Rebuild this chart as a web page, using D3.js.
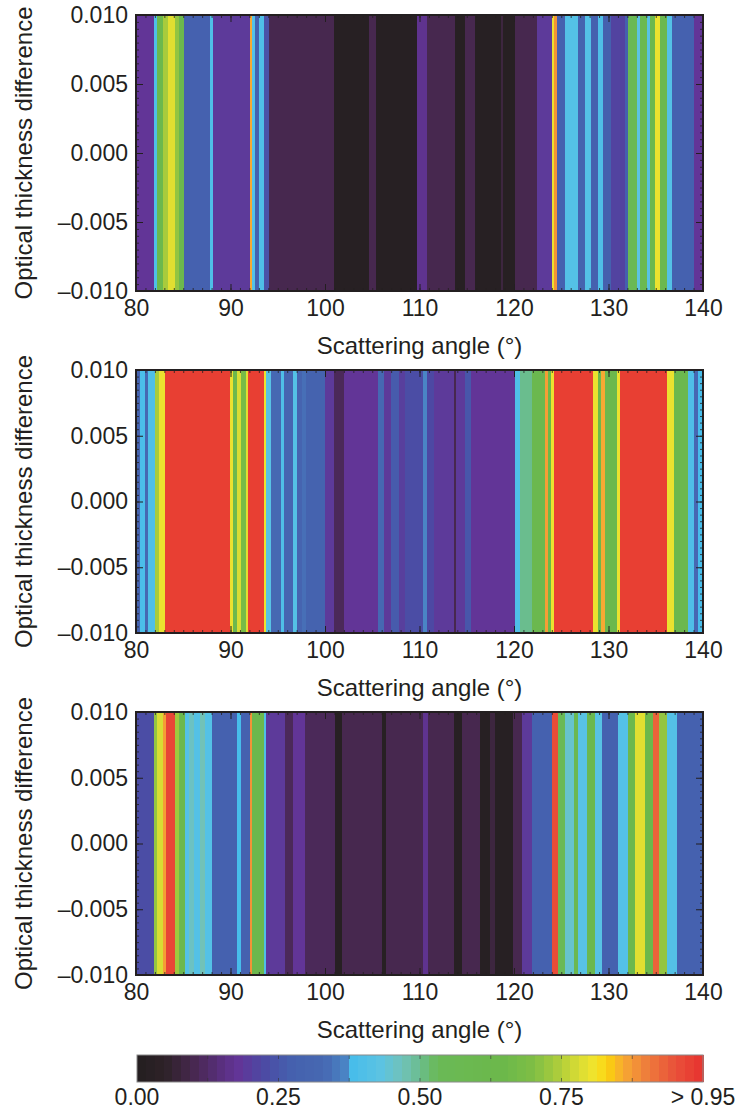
<!DOCTYPE html>
<html>
<head>
<meta charset="utf-8">
<script src="https://cdn.jsdelivr.net/npm/d3@7"></script>
<style>
  body { margin: 0; background: #fff; }
  text { font-family: "Liberation Sans", Arial, sans-serif; fill: #231f20; }
</style>
</head>
<body>
<script>
const width = 735;
const height = 1116;

// stripe start angles (deg) and fraction values, each stripe runs to the next start (last one to 140)
const anglesTop = [80, 81.9, 82.2, 82.9, 83.4, 84.1, 84.5, 85.1, 87.8, 88.1, 92.05, 92.25, 92.55, 93.0, 93.5, 94.1,
  100.9, 104.7, 105.4, 109.7, 110.8, 113.75, 114.8, 115.9, 118.6, 118.8, 120.1, 122.4, 124.0, 124.2, 124.5,
  125.4, 126.8, 127.5, 128.2, 128.9, 129.4, 130.3, 131.7, 132.1, 133.0, 133.3, 134.1, 134.4, 134.9, 135.4,
  136.2, 136.7, 139.0];
const valuesTop = [0.18, 0.40, 0.62, 0.74, 0.79, 0.72, 0.62, 0.28, 0.40, 0.19, 0.86, 0.41, 0.28, 0.40, 0.24, 0.10,
  0.02, 0.10, 0.02, 0.17, 0.10, 0.02, 0.10, 0.02, 0.08, 0.02, 0.10, 0.19, 0.80, 0.88, 0.28,
  0.41, 0.29, 0.41, 0.28, 0.40, 0.27, 0.21, 0.27, 0.55, 0.43, 0.58, 0.42, 0.60, 0.80, 0.60,
  0.41, 0.28, 0.18];

const anglesMid = [80, 80.4, 81.0, 81.3, 82.0, 82.4, 83.1, 89.9, 90.3, 90.7, 91.1, 91.6, 91.9, 93.5, 93.8, 94.3,
  95.3, 95.7, 96.6, 97.0, 97.6, 98.0, 100.0, 100.9, 102.0, 105.6, 106.2, 107.0, 107.8, 108.5, 110.4,
  110.8, 111.5, 113.6, 113.9, 114.8, 115.5, 120.1, 120.6, 121.9, 123.3, 123.6, 123.9, 124.2, 128.4,
  128.9, 129.2, 129.6, 130.9, 131.2, 136.2, 136.9, 138.4, 139.0, 139.5];
const valuesMid = [0.30, 0.39, 0.33, 0.40, 0.74, 0.80, 0.98, 0.80, 0.62, 0.78, 0.68, 0.79, 0.98, 0.80, 0.42, 0.33,
  0.40, 0.31, 0.41, 0.30, 0.34, 0.29, 0.19, 0.11, 0.18, 0.33, 0.19, 0.26, 0.20, 0.23, 0.37,
  0.22, 0.19, 0.10, 0.19, 0.25, 0.18, 0.40, 0.50, 0.60, 0.87, 0.65, 0.80, 0.98, 0.80,
  0.62, 0.86, 0.62, 0.80, 0.98, 0.80, 0.62, 0.40, 0.33, 0.38];

const anglesBot = [80, 81.9, 82.2, 82.9, 83.2, 84.1, 84.5, 85.2, 85.6, 86.1, 86.8, 87.3, 88.0, 90.7, 91.1, 92.05,
  92.25, 93.5, 93.8, 95.8, 96.6, 97.9, 101.1, 101.8, 106.0, 106.5, 110.4, 110.9, 113.6, 114.5, 116.4,
  117.5, 118.0, 119.9, 120.8, 121.9, 124.0, 124.7, 125.4, 126.3, 126.8, 127.7, 128.6, 129.3, 131.0,
  132.1, 132.8, 133.9, 134.7, 135.3, 136.2, 137.2];
const valuesBot = [0.23, 0.72, 0.78, 0.87, 0.97, 0.73, 0.62, 0.41, 0.46, 0.41, 0.47, 0.41, 0.28, 0.38, 0.28, 0.88,
  0.62, 0.40, 0.19, 0.11, 0.18, 0.11, 0.02, 0.10, 0.02, 0.10, 0.17, 0.10, 0.02, 0.10, 0.02,
  0.08, 0.02, 0.10, 0.19, 0.28, 0.96, 0.53, 0.45, 0.60, 0.42, 0.60, 0.42, 0.28, 0.41,
  0.62, 0.79, 0.64, 0.93, 0.72, 0.41, 0.28];

const xTicks = [80, 90, 100, 110, 120, 130, 140];
const yTicks = [-0.010, -0.005, 0.000, 0.005, 0.010];
const barTicks = [0, 0.25, 0.5, 0.75, 1];
const barLabels = ["0.00", "0.25", "0.50", "0.75", "> 0.95"];

// colormap
const cmapStops = [0, 0.05, 0.10, 0.15, 0.18, 0.22, 0.27, 0.33, 0.37, 0.38, 0.43, 0.47, 0.50, 0.53, 0.65,
  0.70, 0.74, 0.78, 0.81, 0.83, 0.86, 0.90, 0.95, 1];
const cmapColors = ["#231f20", "#2e2228", "#47284f", "#5a2f80", "#623597", "#4d48a3", "#4560ae", "#4668b2",
  "#4a85c5", "#47bdeb", "#5cc3e2", "#71c2b8", "#6abd8e", "#6ab956", "#6cb84a", "#7fbe45", "#a8cb3c",
  "#d8dc34", "#f4e52c", "#fbd10c", "#f7a933", "#ee7d3b", "#e9523a", "#e7322f"];

const color = d3.scaleLinear().domain(cmapStops).range(cmapColors).clamp(true);

const panels = [
  {top: 15, bottom: 291, angles: anglesTop, values: valuesTop},
  {top: 370, bottom: 633, angles: anglesMid, values: valuesMid},
  {top: 712, bottom: 975, angles: anglesBot, values: valuesBot}
];

const svg = d3.select("body").append("svg")
  .attr("width", width)
  .attr("height", height);

const x = d3.scaleLinear().domain([80, 140]).range([136, 703]);
const yFmt = d => (d < 0 ? "\u2013" : "") + Math.abs(d).toFixed(3);

panels.forEach(function(p) {
  const y = d3.scaleLinear().domain([-0.010, 0.010]).range([p.bottom, p.top]);
  const g = svg.append("g");

  const stripes = p.angles.map((a, i) => ({
    a0: a,
    a1: i < p.angles.length - 1 ? p.angles[i + 1] : 140,
    v: p.values[i]
  }));

  g.append("g")
    .selectAll("rect")
    .data(stripes)
    .enter()
    .append("rect")
    .attr("x", d => x(d.a0))
    .attr("width", d => x(d.a1) - x(d.a0))
    .attr("y", y(0.010))
    .attr("height", y(-0.010) - y(0.010))
    .attr("fill", d => color(d.v))
    .attr("shape-rendering", "crispEdges");

  // minor ticks all round
  const minor = [
    [d3.axisBottom(x).ticks(60), `translate(0,${p.bottom})`],
    [d3.axisTop(x).ticks(60), `translate(0,${p.top})`],
    [d3.axisLeft(y).ticks(40), `translate(136,0)`],
    [d3.axisRight(y).ticks(40), `translate(703,0)`]
  ];
  minor.forEach(function(m) {
    g.append("g")
      .attr("transform", m[1])
      .call(m[0].tickSize(-3).tickFormat(""))
      .call(a => a.select(".domain").remove())
      .selectAll("line").attr("stroke", "#231f20").attr("stroke-width", 0.8);
  });

  // major ticks + labels
  g.append("g")
    .attr("transform", `translate(0,${p.bottom})`)
    .call(d3.axisBottom(x).tickValues(xTicks).tickSize(-7).tickPadding(9).tickFormat(d3.format("d")))
    .call(a => a.select(".domain").remove())
    .call(a => a.selectAll("line").attr("stroke", "#231f20"))
    .selectAll("text").attr("font-size", 23).attr("fill", "#231f20");

  g.append("g")
    .attr("transform", `translate(0,${p.top})`)
    .call(d3.axisTop(x).tickValues(xTicks).tickSize(-7).tickFormat(""))
    .call(a => a.select(".domain").remove())
    .selectAll("line").attr("stroke", "#231f20");

  g.append("g")
    .attr("transform", "translate(136,0)")
    .call(d3.axisLeft(y).tickValues(yTicks).tickSize(-7).tickPadding(8).tickFormat(yFmt))
    .call(a => a.select(".domain").remove())
    .call(a => a.selectAll("line").attr("stroke", "#231f20"))
    .selectAll("text").attr("font-size", 23).attr("fill", "#231f20");

  g.append("g")
    .attr("transform", "translate(703,0)")
    .call(d3.axisRight(y).tickValues(yTicks).tickSize(-7).tickFormat(""))
    .call(a => a.select(".domain").remove())
    .selectAll("line").attr("stroke", "#231f20");

  // frame
  g.append("rect")
    .attr("x", 136)
    .attr("y", p.top)
    .attr("width", 703 - 136)
    .attr("height", p.bottom - p.top)
    .attr("fill", "none")
    .attr("stroke", "#231f20")
    .attr("stroke-width", 2);

  // titles
  g.append("text")
    .attr("x", (136 + 703) / 2)
    .attr("y", p.bottom + 63)
    .attr("text-anchor", "middle")
    .attr("font-size", 24)
    .text("Scattering angle (\u00b0)");

  g.append("text")
    .attr("transform", `translate(32,${(p.top + p.bottom) / 2}) rotate(-90)`)
    .attr("text-anchor", "middle")
    .attr("font-size", 24)
    .text("Optical thickness difference");
});

// colour bar
const cx = d3.scaleLinear().domain([0, 1]).range([137, 703]);
const nBands = 64;
const bands = d3.range(nBands).map(i => i / nBands);

const bar = svg.append("g");
bar.selectAll("rect")
  .data(bands)
  .enter()
  .append("rect")
  .attr("x", d => cx(d))
  .attr("width", cx(1 / nBands) - cx(0) + 0.5)
  .attr("y", 1055)
  .attr("height", 27)
  .attr("fill", d => color(d + 0.5 / nBands))
  .attr("shape-rendering", "crispEdges");

bar.append("g")
  .selectAll("g")
  .data([0.125, 0.25, 0.375, 0.5, 0.625, 0.75, 0.875])
  .enter()
  .append("g")
  .each(function(d) {
    d3.select(this).append("line")
      .attr("x1", cx(d)).attr("x2", cx(d)).attr("y1", 1055).attr("y2", 1059);
    d3.select(this).append("line")
      .attr("x1", cx(d)).attr("x2", cx(d)).attr("y1", 1078).attr("y2", 1082);
  })
  .selectAll("line")
  .attr("stroke", "#333")
  .attr("stroke-opacity", 0.6);

bar.append("rect")
  .attr("x", 137)
  .attr("y", 1055)
  .attr("width", 703 - 137)
  .attr("height", 27)
  .attr("fill", "none")
  .attr("stroke", "#8a8a8a")
  .attr("stroke-width", 1);

bar.selectAll("text")
  .data(barTicks)
  .enter()
  .append("text")
  .attr("x", d => cx(d))
  .attr("y", 1105)
  .attr("text-anchor", "middle")
  .attr("font-size", 23)
  .text((d, i) => barLabels[i]);
</script>
</body>
</html>
